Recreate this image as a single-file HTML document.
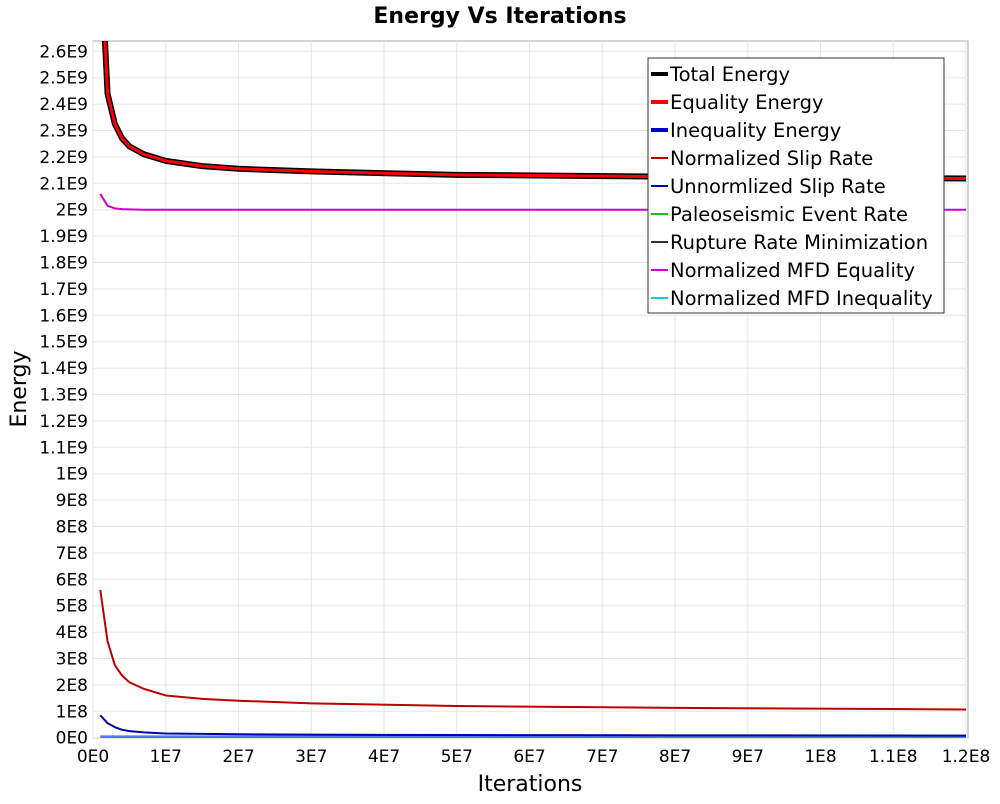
<!DOCTYPE html>
<html><head><meta charset="utf-8"><style>
body{margin:0;background:#fff;font-family:"DejaVu Sans","Liberation Sans",sans-serif}
svg text{font-family:"DejaVu Sans","Liberation Sans",sans-serif}
</style></head><body>
<svg id="chart" width="1000" height="800" xmlns="http://www.w3.org/2000/svg">
<defs><clipPath id="clip"><rect x="93" y="41" width="875" height="697"/></clipPath></defs>
<text x="500" y="23" text-anchor="middle" font-size="22" font-weight="bold">Energy Vs Iterations</text>
<rect x="93" y="41" width="875" height="697" fill="#fff" stroke="#aaa"/>
<g id="grid"></g><g id="ticks"></g>
<g id="series" clip-path="url(#clip)"></g>
<text transform="translate(26,389) rotate(-90)" text-anchor="middle" font-size="22">Energy</text>
<text x="530" y="791" text-anchor="middle" font-size="22">Iterations</text>
<g id="legend"></g>
</svg>
<script>
const xs=[1e6,2e6,3e6,4e6,5e6,7e6,10e6,15e6,20e6,30e6,50e6,80e6,120e6];
const totalEnergy=[3.0e9,2.44e9,2.325e9,2.27e9,2.24e9,2.21e9,2.185e9,2.165e9,2.155e9,2.145e9,2.132e9,2.125e9,2.118e9];
const mfdEquality=[2.06e9,2.015e9,2.005e9,2.002e9,2.001e9,2.0e9,2.0e9,2.0e9,2.0e9,2.0e9,2.0e9,2.0e9,2.0e9];
const slipRate=[5.6e8,3.65e8,2.75e8,2.35e8,2.1e8,1.85e8,1.6e8,1.47e8,1.4e8,1.3e8,1.2e8,1.13e8,1.07e8];
const inequality=[0.85e8,0.55e8,0.4e8,0.3e8,0.25e8,0.2e8,0.16e8,0.145e8,0.13e8,0.115e8,0.1e8,0.09e8,0.08e8];
const smallEnergy=[0.03e8,0.03e8,0.03e8,0.03e8,0.03e8,0.03e8,0.03e8,0.03e8,0.03e8,0.03e8,0.03e8,0.03e8,0.03e8];
const yTickLabels=["0E0","1E8","2E8","3E8","4E8","5E8","6E8","7E8","8E8","9E8","1E9","1.1E9","1.2E9","1.3E9","1.4E9","1.5E9","1.6E9","1.7E9","1.8E9","1.9E9","2E9","2.1E9","2.2E9","2.3E9","2.4E9","2.5E9","2.6E9"];
const xTickLabels=["0E0","1E7","2E7","3E7","4E7","5E7","6E7","7E7","8E7","9E7","1E8","1.1E8","1.2E8"];
const legendLabels=["Total Energy","Equality Energy","Inequality Energy","Normalized Slip Rate","Unnormlized Slip Rate","Paleoseismic Event Rate","Rupture Rate Minimization","Normalized MFD Equality","Normalized MFD Inequality"];
const legendColors=["#000","#f00","#00c","#b00","#00a","#2b2","#333","#c0c","#1cc"];
const NS="http://www.w3.org/2000/svg";
const X=v=>93+v/1e7*72.75, Y=v=>737.7-v/1e8*26.4;
function mk(t,a,p){const e=document.createElementNS(NS,t);for(const k in a)e.setAttribute(k,a[k]);p.appendChild(e);return e;}
const grid=document.getElementById('grid'),ticks=document.getElementById('ticks');
yTickLabels.forEach((l,i)=>{const y=Y(i*1e8);
 const g=mk('line',{x1:93,x2:968,y1:y,y2:y,stroke:'#e6e6e6'},grid);
 
 
 const t=mk('text',{x:88,y:y+6,'text-anchor':'end','font-size':17},ticks);t.textContent=l;
 
 });
xTickLabels.forEach((l,i)=>{const x=X(i*1e7);
 const g=mk('line',{x1:x,x2:x,y1:41,y2:738,stroke:'#e6e6e6'},grid);
 
 
 const t=mk('text',{x:x,y:762,'text-anchor':'middle','font-size':17},ticks);t.textContent=l;
 
 });
const ser=document.getElementById('series');
function line(vals,color,w,name){const p=mk('polyline',{points:xs.map((x,i)=>X(x)+','+Y(vals[i])).join(' '),fill:'none',stroke:color,'stroke-width':w,'stroke-linejoin':'round'},ser);
 
 }
line(smallEnergy,'#5577ff',3,'line-small-energies');
line(inequality,'#00a',2,'line-inequality-energy');
line(slipRate,'#b00',2,'line-normalized-slip-rate');
line(mfdEquality,'#c0c',2,'line-normalized-mfd-equality');
line(totalEnergy,'#000',6,'line-total-energy');
line(totalEnergy,'#f00',3,'line-equality-energy');
const lg=document.getElementById('legend');
mk('rect',{x:648,y:58,width:296,height:255,fill:'#fff',stroke:'#333'},lg);
legendLabels.forEach((l,i)=>{const y=74+i*28;
 const s=mk('line',{x1:651,x2:668,y1:y,y2:y,stroke:legendColors[i],'stroke-width':i<3?4:2},lg);
 
 
 const t=mk('text',{x:670,y:y+7,'font-size':19.5},lg);t.textContent=l;
 
 });
</script>
</body></html>
